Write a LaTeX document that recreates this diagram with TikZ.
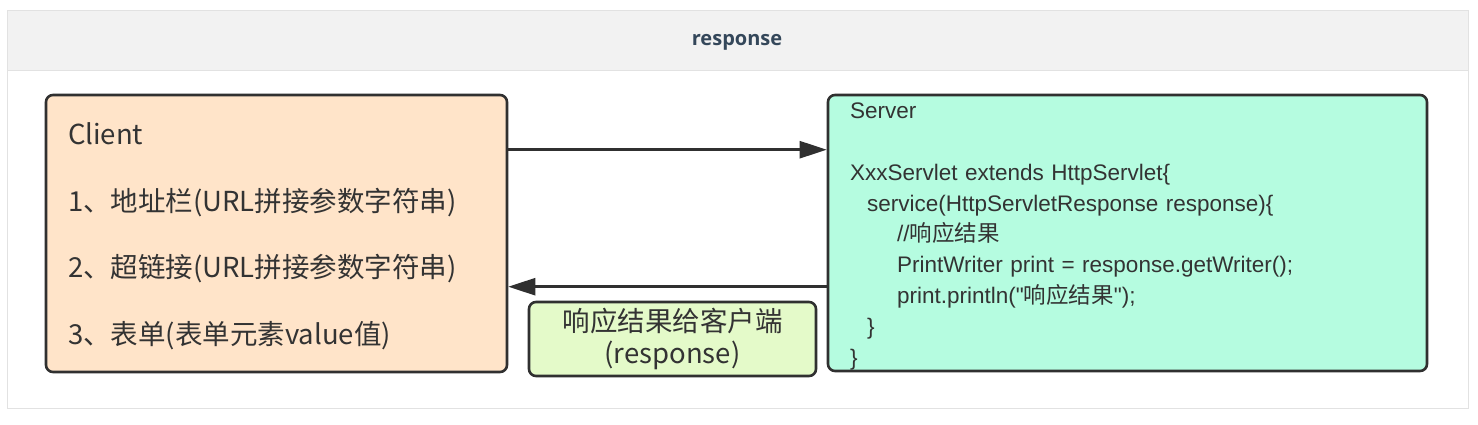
\documentclass[tikz,border=0pt]{standalone}
\usepackage{fontspec}
\usetikzlibrary{arrows.meta,positioning}
\newfontfamily\cjk{Noto Sans CJK SC}
\newfontfamily\codefont{Liberation Sans}
\newfontfamily\titlefont{Open Sans}
\definecolor{clientfill}{HTML}{FFE4C9}
\definecolor{serverfill}{HTML}{B5FCE0}
\definecolor{notefill}{HTML}{E4FAC9}
\definecolor{boxline}{HTML}{303030}
\definecolor{textgray}{HTML}{333333}
\definecolor{headgray}{HTML}{F2F2F2}
\definecolor{framegray}{HTML}{E2E2E2}
\definecolor{titleblue}{HTML}{34475A}
\tikzset{
  box/.style={draw=boxline, line width=2.6pt, rounded corners=7pt, inner sep=0pt, text=textgray},
  flow/.style={draw=boxline, line width=2.6pt, -{Triangle[length=27pt,width=17pt]}},
}
\begin{document}
\begin{tikzpicture}[x=1pt,y=-1pt]
    \useasboundingbox (0,0) rectangle (1478,424);
    \fill[white] (0,0) rectangle (1478,424);

    % Frame with header band
    \fill[headgray] (7,10) rectangle (1468,70);
    \draw[framegray, line width=1pt] (7,70) -- (1468,70);
    \draw[framegray, line width=1pt] (7,10) rectangle (1468,408);
    \node[font=\titlefont\bfseries\fontsize{20}{24}\selectfont, text=titleblue] (title) at (737,42.5) {response};

    % Client
    \node[box, fill=clientfill, minimum width=461pt, minimum height=277pt, text width=417pt, align=left,
          font=\cjk\fontsize{27.5}{66.5}\selectfont] (client) at (276.5,233.5)
      {\rule{0pt}{27pt}Client\\1、地址栏(URL拼接参数字符串)\\2、超链接(URL拼接参数字符串)\\3、表单(表单元素value值)};

    % Server
    \node[box, fill=serverfill, minimum width=599pt, minimum height=276pt, text width=555pt, align=left,
          font=\codefont\fontsize{22.5}{30.8}\selectfont] (server) at (1127.5,233)
      {\rule{0pt}{22.5pt}Server\\
       \mbox{}\\
       XxxServlet extends HttpServlet\{\\
       \hspace*{17pt}service(HttpServletResponse response)\{\\
       \hspace*{47pt}//{\cjk 响应结果}\\
       \hspace*{47pt}PrintWriter print = response.getWriter();\\
       \hspace*{47pt}print.println("{\cjk 响应结果}");\\
       \hspace*{17pt}\}\\
       \}};

    % Response note
    \node[box, fill=notefill, minimum width=287pt, minimum height=74pt, align=center,
          font=\cjk\fontsize{27.5}{32}\selectfont] (note) at (672.5,339)
      {响应结果给客户端\\(response)};

    % Request and response
    \coordinate (reqstart) at ([yshift=-56pt]client.north east);
    \coordinate (respstart) at ([yshift=-193pt]server.north west);
    \draw[flow] (reqstart) -- (reqstart -| server.west);
    \draw[flow] (respstart) -- (respstart -| client.east);
\end{tikzpicture}
\end{document}
